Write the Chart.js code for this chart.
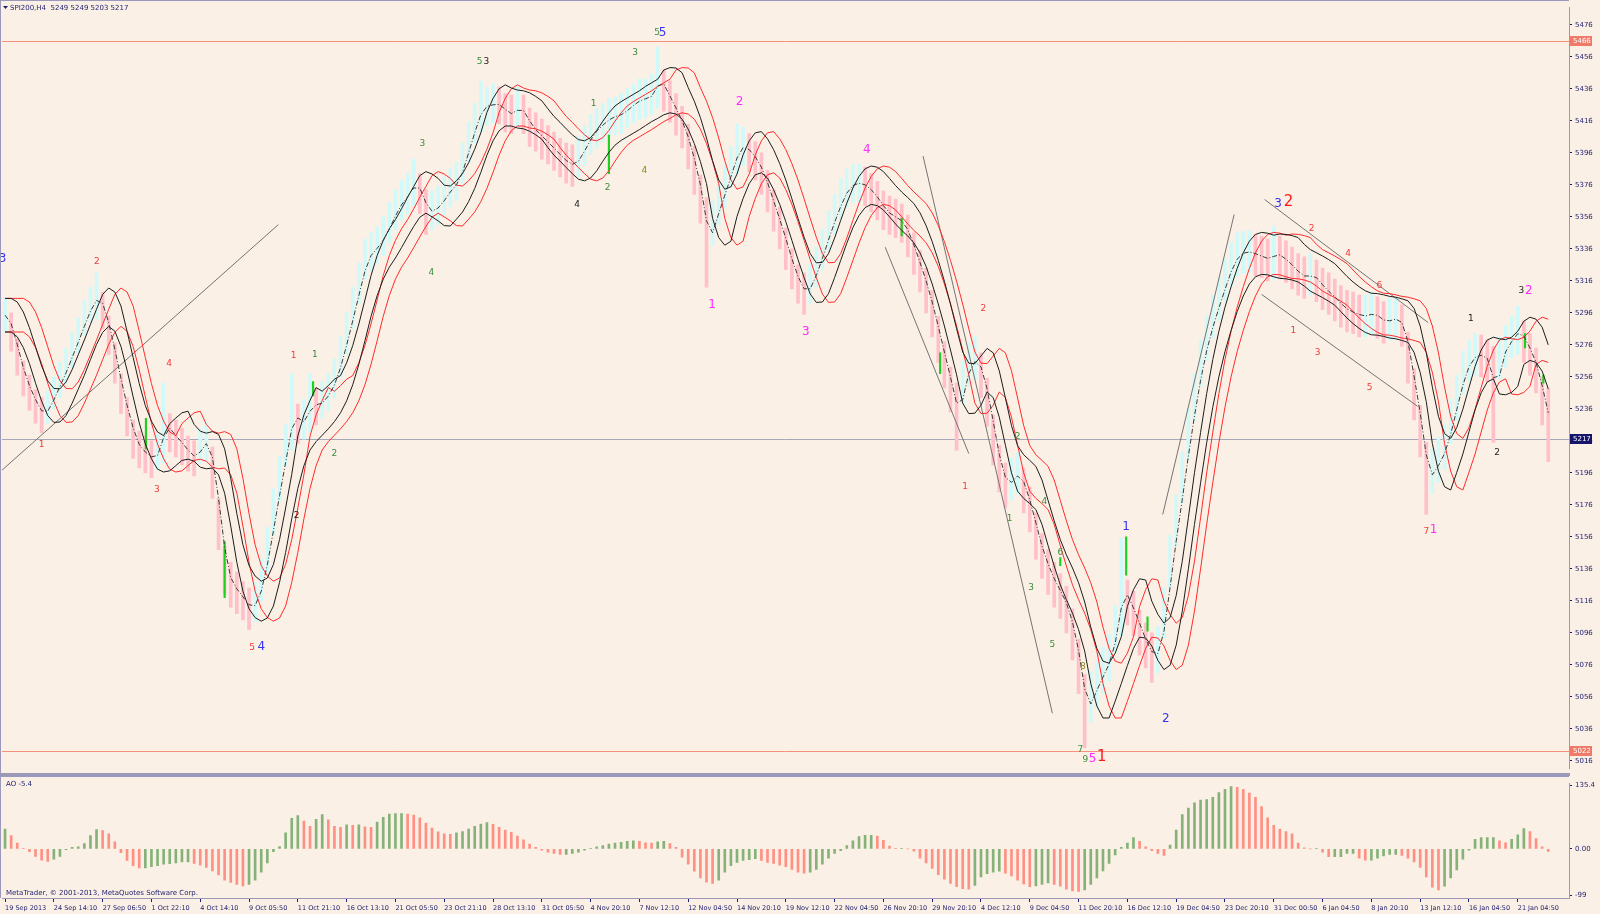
<!DOCTYPE html>
<html>
<head>
<meta charset="utf-8">
<script src="https://cdn.jsdelivr.net/npm/chart.js@4.4.1/dist/chart.umd.min.js"></script>
<style>
html, body { margin: 0; padding: 0; background: #fbf0e5; overflow: hidden; }
#wrap { position: relative; width: 1600px; height: 914px; }
canvas { position: absolute; left: 0; }
#main { top: 0; }
#ao { top: 776px; }
</style>
</head>
<body>
<div id="wrap">
  <canvas id="main" width="1600" height="776"></canvas>
  <canvas id="ao" width="1600" height="138"></canvas>
</div>
<script>
// tick labels
const dates = ['19 Sep 2013','24 Sep 14:10','27 Sep 06:50','1 Oct 22:10','4 Oct 14:10','9 Oct 05:50','11 Oct 21:10','16 Oct 13:10','21 Oct 05:50','23 Oct 21:10','28 Oct 13:10','31 Oct 05:50','4 Nov 20:10','7 Nov 12:10','12 Nov 04:50','14 Nov 20:10','19 Nov 12:10','22 Nov 04:50','26 Nov 20:10','29 Nov 20:10','4 Dec 12:10','9 Dec 04:50','11 Dec 20:10','16 Dec 12:10','19 Dec 04:50','23 Dec 20:10','31 Dec 00:50','6 Jan 04:50','8 Jan 20:10','13 Jan 12:10','16 Jan 04:50','21 Jan 04:50'];
const priceTicks = [5016,5036,5056,5076,5096,5116,5136,5156,5176,5196,5216,5236,5256,5276,5296,5316,5336,5356,5376,5396,5416,5436,5456,5476];
const aoTicks = [-99, 0, 135.4];

// bar highs / lows (one bar = two H4 bars of the picture)
const hi = [5305,5296,5280,5266,5257,5248,5243,5247,5256,5265, 5274,5284,5293,5304,5312,5321,5309,5294,5277,5258,
  5243,5229,5222,5219,5216,5220,5252,5233,5229,5224, 5219,5216,5224,5228,5212,5180,5150,5140,5134,5128,
  5124,5127,5142,5162,5186,5206,5226,5258,5239,5242, 5258,5249,5253,5258,5267,5281,5296,5312,5327,5342,
  5346,5350,5356,5365,5373,5379,5383,5392,5383,5373, 5372,5375,5381,5386,5390,5402,5415,5427,5441,5437,
  5439,5437,5433,5432,5437,5432,5424,5421,5417,5413, 5409,5405,5402,5401,5406,5413,5420,5424,5427,5430,
  5431,5433,5436,5439,5442,5442,5445,5462,5448,5441, 5433,5425,5414,5400,5382,5368,5366,5377,5388,5400,
  5414,5412,5408,5403,5396,5385,5373,5362,5349,5336, 5326,5321,5326,5337,5348,5360,5370,5380,5386,5389,
  5389,5387,5383,5378,5372,5369,5367,5364,5357,5346, 5335,5324,5310,5294,5278,5262,5252,5266,5277,5281,
  5271,5255,5232,5213,5202,5205,5209,5199,5187,5171, 5158,5148,5140,5133,5125,5111,5092,5070,5072,5079,
  5087,5095,5113,5155,5129,5122,5110,5102,5096,5100, 5124,5157,5182,5209,5236,5258,5279,5294,5307,5318,
  5330,5340,5346,5347,5347,5345,5344,5342,5350,5344, 5341,5337,5333,5331,5333,5329,5324,5321,5317,5313,
  5310,5309,5307,5307,5309,5306,5303,5305,5305,5301, 5284,5261,5238,5215,5211,5218,5226,5242,5257,5272,
  5279,5283,5282,5279,5275,5281,5288,5294,5300,5291, 5283,5274,5256,5249];
const lo = [5284,5272,5257,5244,5235,5227,5221,5227,5236,5243, 5252,5262,5271,5282,5290,5292,5286,5270,5252,5233,
  5219,5205,5199,5196,5193,5198,5202,5209,5206,5201, 5197,5194,5202,5203,5180,5148,5120,5112,5108,5104,
  5098,5103,5116,5134,5157,5178,5200,5210,5214,5217, 5221,5226,5230,5235,5243,5256,5270,5286,5302,5317,
  5322,5327,5332,5340,5348,5354,5358,5363,5358,5345, 5348,5351,5357,5362,5366,5377,5390,5402,5409,5413,
  5415,5414,5409,5408,5413,5408,5400,5397,5392,5389, 5385,5381,5377,5375,5381,5388,5395,5399,5403,5406,
  5407,5408,5412,5415,5417,5418,5420,5424,5422,5415, 5407,5399,5386,5370,5352,5312,5338,5351,5362,5374,
  5383,5388,5384,5379,5370,5359,5347,5336,5323,5311, 5302,5295,5302,5312,5323,5335,5345,5355,5362,5365,
  5365,5363,5359,5354,5348,5345,5343,5340,5331,5320, 5309,5296,5281,5265,5249,5234,5210,5239,5250,5254,
  5243,5225,5201,5184,5174,5179,5183,5171,5159,5142, 5130,5120,5112,5105,5096,5079,5058,5024,5040,5049,
  5058,5066,5084,5094,5101,5094,5082,5074,5065,5071, 5093,5124,5150,5177,5204,5228,5250,5266,5280,5291,
  5303,5313,5319,5321,5321,5319,5318,5316,5317,5318, 5315,5311,5307,5305,5307,5303,5298,5295,5291,5287,
  5284,5283,5281,5281,5283,5280,5277,5279,5279,5275, 5252,5229,5206,5170,5183,5190,5198,5214,5229,5245,
  5253,5257,5256,5253,5215,5255,5262,5268,5270,5265, 5257,5246,5226,5203];

// Awesome Oscillator values
const ao = [42,28,12,1,-6,-16,-24,-27,-22,-16, -2,3,4,11,28,41,39,32,15,-8,
  -25,-36,-41,-41,-38,-36,-33,-32,-30,-28, -28,-31,-35,-40,-47,-56,-67,-72,-76,-79,
  -76,-67,-50,-30,-6,5,34,65,71,59, 48,63,73,62,48,46,51,50,51,47,
  46,57,67,74,75,75,74,72,66,55, 44,36,32,31,34,37,42,48,53,56,
  52,46,40,35,27,19,10,3,-3,-7, -10,-12,-12,-10,-7,-3,1,4,7,10,
  12,14,16,17,16,13,12,15,16,11, 3,-18,-33,-48,-62,-71,-74,-67,-50,-36,
  -29,-25,-23,-21,-25,-29,-31,-35,-38,-44, -50,-52,-50,-44,-33,-20,-10,-4,7,17,
  26,29,29,27,18,6,1,1,0,-5, -20,-30,-42,-55,-65,-74,-81,-85,-86,-78,
  -60,-53,-50,-48,-52,-58,-67,-75,-81,-79, -76,-73,-76,-80,-86,-90,-91,-88,-76,-62,
  -47,-31,-13,3,12,24,16,4,-4,-10, -14,8,40,73,87,98,104,105,110,120,
  127,133,131,127,119,110,90,66,50,42, 37,32,12,2,0,1,-7,-17,-17,-17,
  -10,-10,-20,-24,-24,-20,-15,-12,-12,-14, -20,-28,-40,-60,-82,-88,-80,-62,-45,-22,
  -3,20,24,24,24,17,13,20,30,43, 37,22,4,-5.4];

// green signal bars: [bar, low, high]
const greenMarks = [[23.1,5211,5230],[36,5118,5153],[50.5,5244,5253],[99,5383,5407],[147,5344,5355],[153.3,5258,5271],[173,5138,5143],[183.8,5132,5156],[187.3,5097,5106],[249.2,5274,5283],[252.2,5252,5257]];
// trend lines: [bar1, price1, bar2, price2]
const trendLines = [[-0.84,5196.5,44.8,5351.1],[150.5,5394,171.7,5045.7],[144.3,5337,158,5208],[189.8,5170,201.5,5357.4],[206.5,5366.8,233.3,5289.9],[206,5307.5,231.6,5237.5]];
const redLevels = [5466, 5022];
const bidLevel = 5217;

// wave labels: [bar, price, text]
const redLabels = [[6.0,5213.5,'1'],[15.05,5327.7,'2'],[24.9,5185.7,'3'],[26.9,5264,'4'],[40.5,5086.7,'5'],[47.3,5269,'1'],[157.4,5187.6,'1'],[160.4,5298.7,'2'],[211.2,5284.8,'1'],[214.2,5348.5,'2'],[215.2,5271,'3'],[220.2,5332.8,'4'],[223.7,5249.5,'5'],[225.3,5313,'6'],[233,5159.3,'7']];
const bigRedLabels = [[179.8,5018,'1'],[210.4,5365,'2']];
const magentaLabels = [[115.9,5301,'1'],[120.4,5428,'2'],[131.3,5284,'3'],[141.3,5398,'4'],[178.3,5017.3,'5'],[234.2,5160.5,'1'],[249.8,5309.4,'2']];
const blueLabels = [[-0.4,5329.6,'3'],[42,5087.3,'4'],[107.8,5471,'5'],[183.8,5162.5,'1'],[190.3,5042.5,'2'],[208.7,5364.3,'3']];
const greenLabels = [[50.8,5270,'1'],[54,5207.8,'2'],[68.4,5402,'3'],[69.9,5321,'4'],[77.8,5452.7,'5'],[96.5,5427,'1'],[98.8,5374.4,'2'],[103.3,5458.3,'3'],[106.9,5471,'5'],[164.7,5167.5,'1'],[166,5218.6,'2'],[168.2,5124,'3'],[170.4,5178,'4'],[171.7,5088.6,'5'],[173,5146,'6'],[176.3,5023,'7'],[177.1,5016.7,'9']];
const oliveLabels = [[104.8,5385,'4'],[176.7,5074.7,'8']];
const blackLabels = [[47.8,5169.3,'2'],[78.9,5452.7,'3'],[93.8,5363.7,'4'],[240.3,5292.4,'1'],[244.6,5208.5,'2'],[248.6,5310,'3']];

const header = 'SPI200,H4  5249 5249 5203 5217';
const aoTitle = 'AO -5.4';
const footer = 'MetaTrader, \u00a9 2001-2013, MetaQuotes Software Corp.';

const FONT = '"DejaVu Sans", sans-serif';
const NAVY = '#1e1e6e';
const FRAME = '#9c98ba';
const X_MIN = -0.5, X_MAX = 256.4;

window.addEventListener('load', () => {
    drawMain();
    drawAO();
});

function movingAvg(arr, period, shift) {
    return arr.map((_, i) => {
        let s = 0;
        for (let k = 0; k < period; k++) s += arr[Math.max(0, i - shift - k)];
        return { x: i, y: s / period };
    });
}

function lineSet(data, color, width, order, dash) {
    return { type: 'line', data, borderColor: color, borderWidth: width, borderDash: dash || [],
             pointRadius: 0, tension: 0, order };
}

function drawMain() {
    const mid = hi.map((h, i) => (h + lo[i]) / 2);
    const candleColors = mid.map((m, i) => (i === 0 || m >= mid[i - 1]) ? '#d0fafa' : '#ffc0ca');

    const deco = {
        id: 'deco',
        beforeDatasetsDraw(chart) {
            const { ctx, chartArea: a, scales: { y } } = chart;
            ctx.save();
            ctx.lineWidth = 1;
            const hline = (v, c) => {
                const py = Math.round(y.getPixelForValue(v)) + 0.5;
                ctx.strokeStyle = c;
                ctx.beginPath(); ctx.moveTo(a.left, py); ctx.lineTo(a.right, py); ctx.stroke();
            };
            redLevels.forEach(v => hline(v, '#f5907c'));
            hline(bidLevel, '#a6a6b8');
            ctx.restore();
        },
        afterDraw(chart) {
            const { ctx, chartArea: a, scales: { x, y } } = chart;
            ctx.save();
            ctx.textAlign = 'center';
            ctx.textBaseline = 'middle';
            const put = (list, color, size) => {
                ctx.fillStyle = color;
                ctx.font = size + 'px ' + FONT;
                list.forEach(l => ctx.fillText(l[2], x.getPixelForValue(l[0]), y.getPixelForValue(l[1])));
            };
            put(redLabels, '#f03a3a', 9);
            put(greenLabels, '#3c8c3c', 9);
            put(oliveLabels, '#8a8a10', 9);
            put(blackLabels, '#222222', 9);
            put(magentaLabels, '#ff2cff', 12);
            put(blueLabels, '#3535f0', 12);
            put(bigRedLabels, '#ff1a1a', 15);

            // price tags on the axis
            const tag = (v, bg) => {
                const py = Math.round(y.getPixelForValue(v));
                ctx.fillStyle = bg;
                ctx.fillRect(a.right + 1, py - 5, 22, 10);
                ctx.fillStyle = '#ffffff';
                ctx.font = '7px ' + FONT;
                ctx.textAlign = 'left';
                ctx.fillText(String(v), a.right + 4, py);
            };
            redLevels.forEach(v => tag(v, '#f07a68'));
            tag(bidLevel, '#14146a');

            // header
            ctx.fillStyle = NAVY;
            ctx.font = '7px ' + FONT;
            ctx.textAlign = 'left';
            ctx.fillText(header, 10, 8);
            ctx.beginPath(); ctx.moveTo(3, 6); ctx.lineTo(8, 6); ctx.lineTo(5.5, 9); ctx.closePath(); ctx.fill();

            // frame and separator
            ctx.fillStyle = FRAME;
            ctx.fillRect(0, 0, 1, 776);
            ctx.fillRect(0, 0, a.right, 1);
            ctx.fillRect(0, 773, a.right + 1, 3);
            ctx.restore();
        }
    };

    new Chart(document.getElementById('main'), {
        type: 'bar',
        data: {
            datasets: [
                lineSet(movingAvg(mid, 2, 0), '#3a3a3a', 1, 1, [5, 2, 1, 2]),
                lineSet(movingAvg(hi, 4, 1), '#1c1c1c', 1, 2),
                lineSet(movingAvg(lo, 4, 1), '#1c1c1c', 1, 2),
                lineSet(movingAvg(hi, 4, 3), '#ff2a2a', 1, 3),
                lineSet(movingAvg(lo, 4, 3), '#ff2a2a', 1, 3),
                ...trendLines.map(t => lineSet([{ x: t[0], y: t[1] }, { x: t[2], y: t[3] }], '#747474', 1, 4)),
                { type: 'bar', data: greenMarks.map(g => ({ x: g[0], y: [g[1], g[2]] })),
                  backgroundColor: '#20d020', barThickness: 1.5, grouped: false, order: 5 },
                { type: 'bar', data: hi.map((h, i) => ({ x: i, y: [lo[i], h] })),
                  backgroundColor: candleColors, barThickness: 3, grouped: false, order: 10 }
            ]
        },
        options: {
            responsive: false,
            animation: false,
            events: [],
            layout: { padding: { left: 2, top: 2, right: 0, bottom: 4 } },
            plugins: { legend: { display: false }, tooltip: { enabled: false } },
            scales: {
                x: { type: 'linear', min: X_MIN, max: X_MAX, offset: false, display: false },
                y: {
                    position: 'right', min: 5011, max: 5487,
                    afterBuildTicks: s => { s.ticks = priceTicks.map(v => ({ value: v })); },
                    afterFit: s => { s.width = 31; },
                    ticks: { color: NAVY, font: { family: FONT, size: 7 }, padding: 3, callback: v => String(v) },
                    grid: { drawOnChartArea: false, tickLength: 3, color: NAVY },
                    border: { display: true, color: FRAME }
                }
            }
        },
        plugins: [deco]
    });
}

function drawAO() {
    const colors = ao.map((v, i) => (i === 0 || v >= ao[i - 1]) ? '#86b27a' : '#ff9084');
    const deco = {
        id: 'aodeco',
        afterDraw(chart) {
            const { ctx, chartArea: a } = chart;
            ctx.save();
            ctx.fillStyle = NAVY;
            ctx.font = '7px ' + FONT;
            ctx.textBaseline = 'middle';
            ctx.fillText(aoTitle, 6, 8);
            ctx.fillText(footer, 6, 117);
            ctx.fillStyle = FRAME;
            ctx.fillRect(0, 0, 1, a.bottom);
            ctx.fillRect(0, 0, a.right, 1);
            ctx.restore();
        }
    };

    new Chart(document.getElementById('ao'), {
        type: 'bar',
        data: {
            datasets: [{ data: ao.map((v, i) => ({ x: i, y: v })), backgroundColor: colors, barThickness: 2 }]
        },
        options: {
            responsive: false,
            animation: false,
            events: [],
            layout: { padding: { left: 2, top: 2, right: 0, bottom: 0 } },
            plugins: { legend: { display: false }, tooltip: { enabled: false } },
            scales: {
                x: {
                    type: 'linear', min: X_MIN, max: X_MAX, offset: false,
                    afterBuildTicks: s => { s.ticks = dates.map((d, k) => ({ value: 8 * k })); },
                    afterFit: s => { s.height = 16; },
                    ticks: { autoSkip: false, maxRotation: 0, align: 'start', color: NAVY, padding: 2,
                             font: { family: FONT, size: 6.5 }, callback: v => dates[Math.round(v / 8)] },
                    grid: { drawOnChartArea: false, offset: false, tickLength: 4, color: NAVY },
                    border: { display: true, color: FRAME }
                },
                y: {
                    position: 'right', min: -105, max: 140,
                    afterBuildTicks: s => { s.ticks = aoTicks.map(v => ({ value: v })); },
                    afterFit: s => { s.width = 31; },
                    ticks: { color: NAVY, font: { family: FONT, size: 7 }, padding: 3,
                             callback: v => v === 0 ? '0.00' : String(v) },
                    grid: { drawOnChartArea: false, tickLength: 3, color: NAVY },
                    border: { display: true, color: FRAME }
                }
            }
        },
        plugins: [deco]
    });
}
</script>
</body>
</html>
